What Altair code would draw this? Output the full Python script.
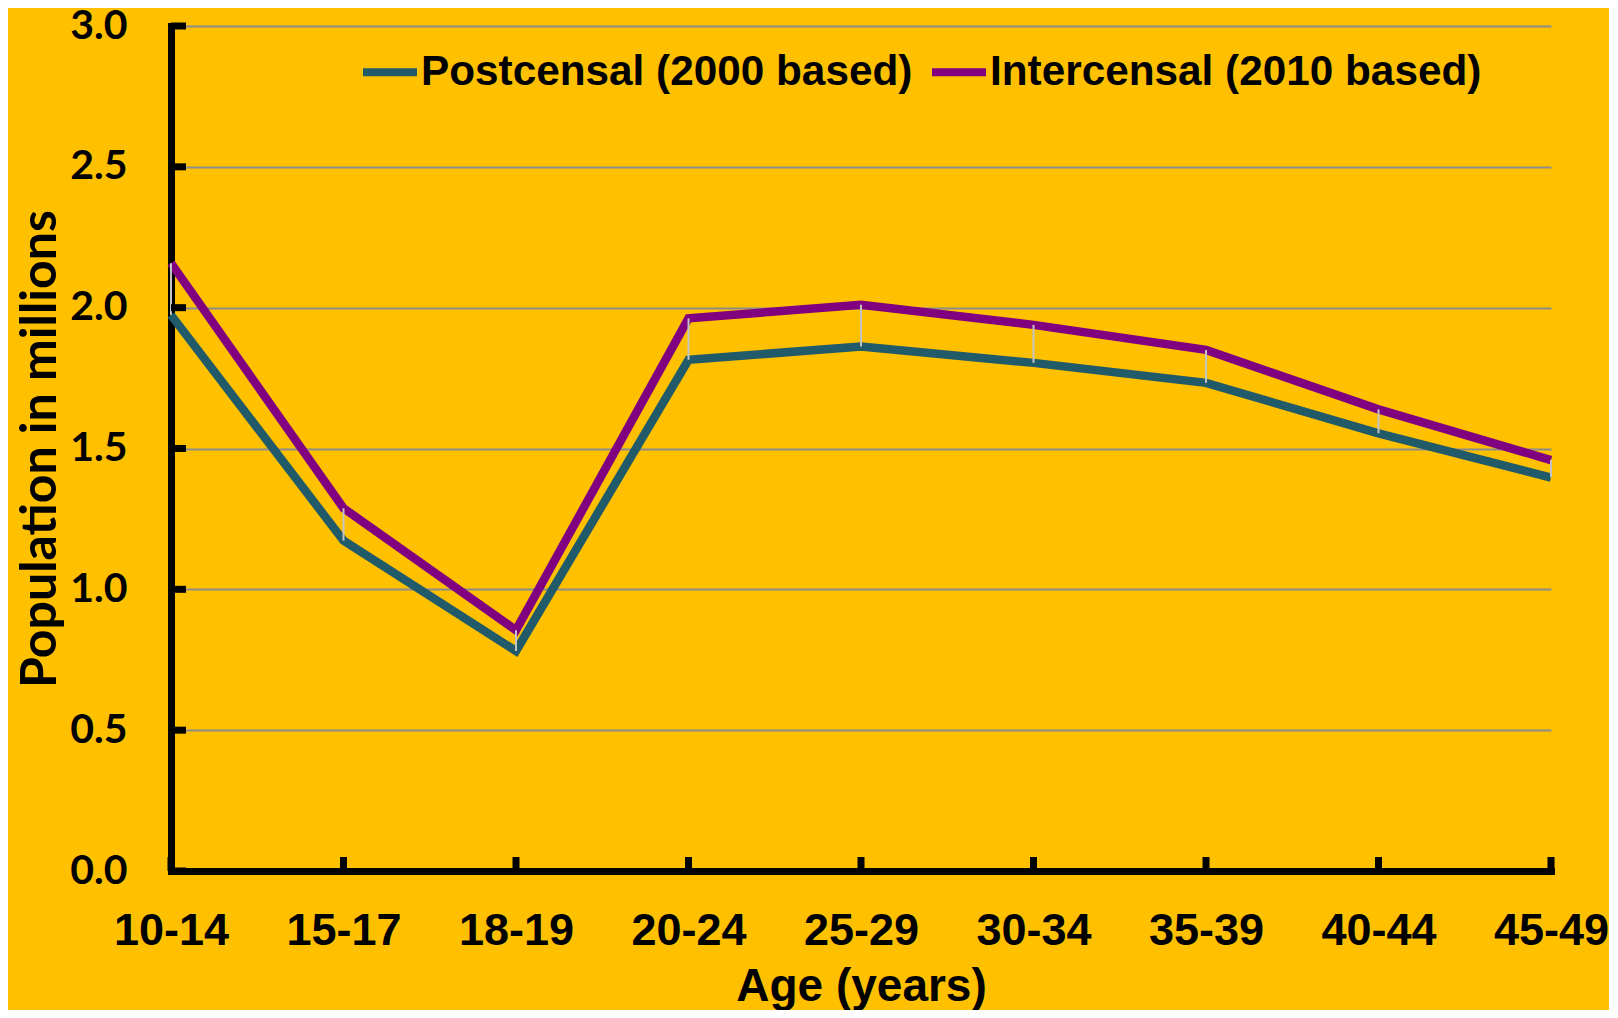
import altair as alt
import pandas as pd

ages = ["10-14", "15-17", "18-19", "20-24", "25-29", "30-34", "35-39", "40-44", "45-49"]
postcensal = [1.974, 1.173, 0.781, 1.815, 1.862, 1.804, 1.733, 1.554, 1.397]
intercensal = [2.158, 1.288, 0.855, 1.962, 2.010, 1.939, 1.850, 1.639, 1.459]
series_names = ["Postcensal (2000 based)", "Intercensal (2010 based)"]
series_colors = ["#215A69", "#800080"]
y_ticks = [0.0, 0.5, 1.0, 1.5, 2.0, 2.5, 3.0]

long_rows = []
for name, vals in zip(series_names, [postcensal, intercensal]):
    for a, v in zip(ages, vals):
        long_rows.append({"age": a, "series": name, "value": v})
df_long = pd.DataFrame(long_rows)
df_wide = pd.DataFrame({"age": ages, "post": postcensal, "inter": intercensal})
df_yt = pd.DataFrame({"v": y_ticks})
df_xt = pd.DataFrame({"age": ages})

xscale = alt.Scale(type="point", padding=0, domain=ages)
yscale = alt.Scale(domain=[0, 3], nice=False)

x_axis = alt.Axis(title="Age (years)", labelAngle=0, ticks=False, domain=True,
                  domainColor="black", domainWidth=7, domainCap="square",
                  labelFont="Liberation Sans", labelFontSize=45, labelFontWeight="bold",
                  labelColor="black", labelPadding=37, labelFlush=False,
                  titleFont="Liberation Sans", titleFontSize=46, titleFontWeight="bold",
                  titleColor="black", titleBaseline="alphabetic", titleY=129,
                  grid=False)
y_axis = alt.Axis(title="Population in millions", values=y_ticks, format=".1f",
                  ticks=False, domain=True, domainColor="black", domainWidth=7,
                  domainCap="square",
                  labelFont="Lato", labelFontSize=41, labelFontWeight="bold",
                  labelColor="black", labelPadding=44,
                  titleFont="Lato", titleFontSize=50, titleFontWeight="bold",
                  titleColor="black", titleAngle=-90, titleBaseline="alphabetic",
                  titleAlign="center", titleX=-116, titleY=422.5,
                  grid=True, gridColor="#8C8C8C", gridWidth=2)

lines = alt.Chart(df_long).mark_line(strokeWidth=8.5, strokeJoin="miter", strokeCap="butt").encode(
    x=alt.X("age:N", scale=xscale, sort=ages, axis=x_axis),
    y=alt.Y("value:Q", scale=yscale, axis=y_axis),
    color=alt.Color("series:N", scale=alt.Scale(domain=series_names, range=series_colors),
                    legend=alt.Legend(title=None, orient="none", direction="horizontal",
                                      legendX=188, legendY=15, symbolType="stroke",
                                      symbolSize=2916, symbolStrokeWidth=8,
                                      labelFont="Liberation Sans", labelFontSize=42.3,
                                      labelFontWeight="bold", labelColor="black",
                                      labelLimit=800, labelOffset=0, columnPadding=3,
                                      padding=0)),
)

hilo = alt.Chart(df_wide).mark_rule(color="#C4C4C4", strokeWidth=2).encode(
    x=alt.X("age:N", scale=xscale, sort=ages, axis=x_axis),
    y=alt.Y("post:Q", scale=yscale, axis=y_axis),
    y2="inter:Q",
)

yticks = alt.Chart(df_yt).mark_tick(orient="horizontal", size=15, thickness=7, color="black",
                                    opacity=1, xOffset=7.5).encode(
    x=alt.datum(ages[0], scale=xscale, type="nominal", axis=x_axis),
    y=alt.Y("v:Q", scale=yscale, axis=y_axis),
)

xticks = alt.Chart(df_xt).mark_tick(orient="vertical", size=14, thickness=7, color="black",
                                    opacity=1, yOffset=-7).encode(
    x=alt.X("age:N", scale=xscale, sort=ages, axis=x_axis),
    y=alt.datum(0, scale=yscale, type="quantitative", axis=y_axis),
)

chart = alt.layer(lines, hilo, yticks, xticks).properties(
    width=1380, height=845, autosize="none",
    padding={"left": 163, "top": 18, "right": 58, "bottom": 139},
    background="#FFC000",
).configure_view(stroke=None)

chart.save("out.html", embed_options={"renderer": "svg", "actions": False})
